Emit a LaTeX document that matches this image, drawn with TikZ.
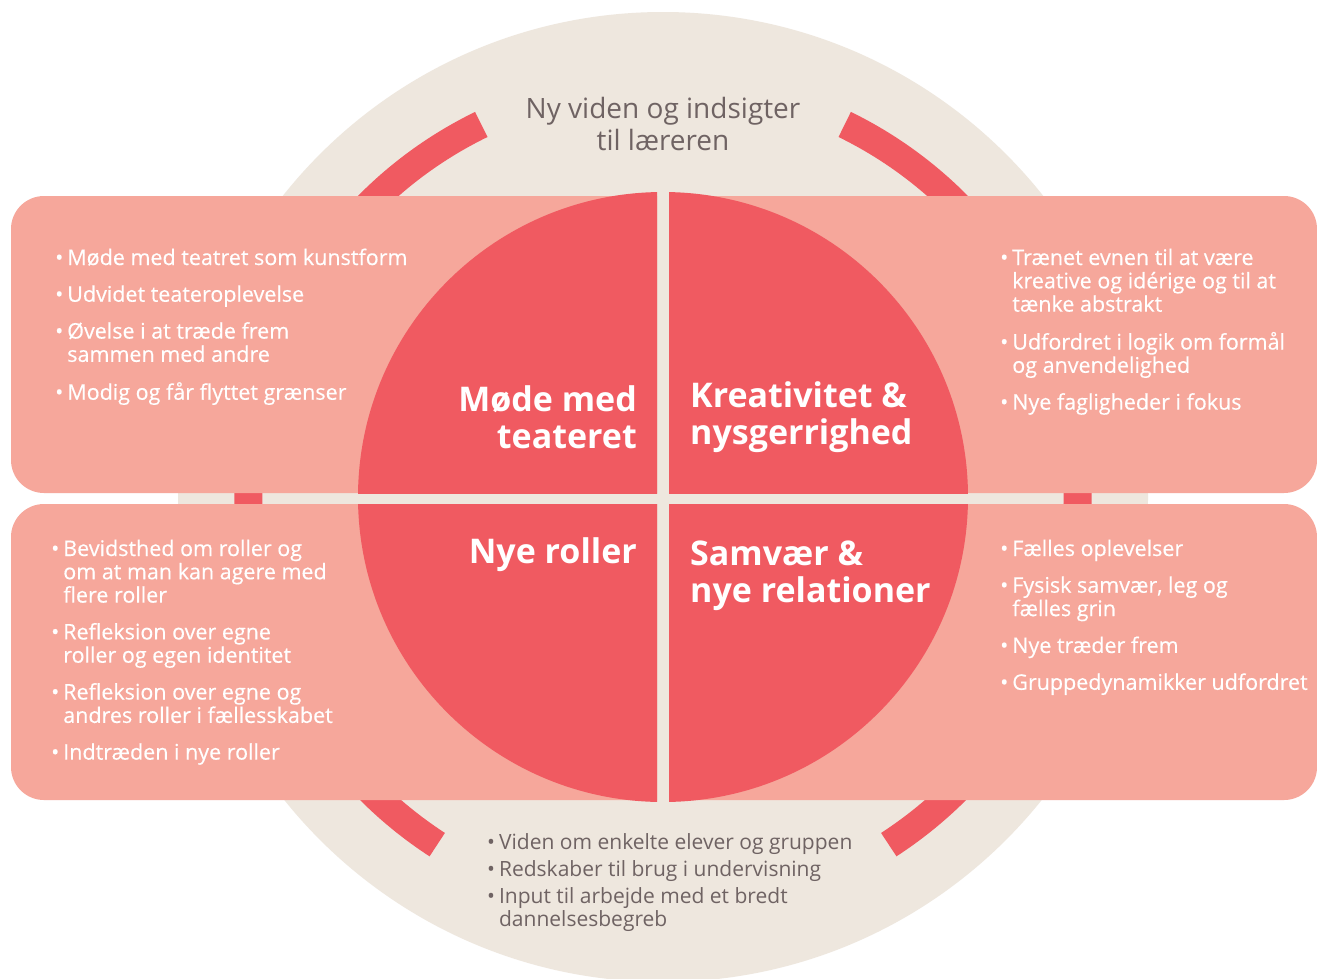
\documentclass[tikz,border=0pt]{standalone}
\usepackage{fontspec}
\setmainfont{Open Sans}
\newfontfamily\listfont{Open Sans}[FakeBold=0.4]
\definecolor{beige}{HTML}{EEE7DE}
\definecolor{salmon}{HTML}{F6A79B}
\definecolor{redc}{HTML}{F05A61}
\definecolor{greytxt}{HTML}{6F6363}
\newcommand{\bodyfont}{\listfont\fontsize{21.5}{23}\selectfont}
\newcommand{\titlefont}{\fontsize{34}{37}\selectfont\bfseries}
\begin{document}
\begin{tikzpicture}[x=1pt,y=-1pt,
  ring/.style={draw=redc,line width=28pt},
  listtxt/.style={anchor=base west,inner sep=0pt,text=white,font=\bodyfont},
  titletxt/.style={inner sep=0pt,text=white,font=\titlefont},
  greylist/.style={inner sep=0pt,text=greytxt}]
\useasboundingbox (0,0) rectangle (1317,978);
\fill[white] (0,0) rectangle (1317,978);
\coordinate (c) at (663,497);
\fill[beige] (c) circle (485pt);
% red ring segments
\draw[ring] (c) ++(116:414.5pt) arc[start angle=116,end angle=237,radius=414.5pt];
\draw[ring] (c) ++(-57:414.5pt) arc[start angle=-57,end angle=64,radius=414.5pt];
% quadrants
\begin{scope}
  \clip (0,0) rectangle (657,493);
  \fill[salmon,rounded corners=33pt] (11,196) rectangle (720,493);
  \fill[redc] (c) circle (305pt);
\end{scope}
\begin{scope}
  \clip (669,0) rectangle (1317,493);
  \fill[salmon,rounded corners=33pt] (600,196) rectangle (1317,493);
  \fill[redc] (c) circle (305pt);
\end{scope}
\begin{scope}
  \clip (0,504) rectangle (657,978);
  \fill[salmon,rounded corners=33pt] (11,504) rectangle (720,800);
  \fill[redc] (c) circle (305pt);
\end{scope}
\begin{scope}
  \clip (669,504) rectangle (1317,978);
  \fill[salmon,rounded corners=33pt] (600,504) rectangle (1317,800);
  \fill[redc] (c) circle (305pt);
\end{scope}
% titles (base anchor = last line)
\node[titletxt,anchor=base east,align=right] (t1) at (637,448) {Møde med\\teateret};
\node[titletxt,anchor=base west,align=left] (t2) at (690,444) {Kreativitet \&\\nysgerrighed};
\node[titletxt,anchor=base east,align=right] (t3) at (637,563) {Nye roller};
\node[titletxt,anchor=base west,align=left] (t4) at (690,602) {Samvær \&\\nye relationer};
% lists
\node[listtxt] (l1) at (55,265) {\begin{tabular}[t]{@{}l@{\hspace{4pt}}l@{}}
•&Møde med teatret som kunstform\\[13.5pt]
•&Udvidet teateroplevelse\\[13.5pt]
•&Øvelse i at træde frem\\
&sammen med andre\\[13.5pt]
•&Modig og får flyttet grænser
\end{tabular}};
\node[listtxt] (l2) at (1000,265) {\begin{tabular}[t]{@{}l@{\hspace{4pt}}l@{}}
•&Trænet evnen til at være\\
&kreative og idérige og til at\\
&tænke abstrakt\\[13.5pt]
•&Udfordret i logik om formål\\
&og anvendelighed\\[13.5pt]
•&Nye fagligheder i fokus
\end{tabular}};
\node[listtxt] (l3) at (51,556) {\begin{tabular}[t]{@{}l@{\hspace{4pt}}l@{}}
•&Bevidsthed om roller og\\
&om at man kan agere med\\
&flere roller\\[13.5pt]
•&Refleksion over egne\\
&roller og egen identitet\\[13.5pt]
•&Refleksion over egne og\\
&andres roller i fællesskabet\\[13.5pt]
•&Indtræden i nye roller
\end{tabular}};
\node[listtxt] (l4) at (1000,556) {\begin{tabular}[t]{@{}l@{\hspace{4pt}}l@{}}
•&Fælles oplevelser\\[13.5pt]
•&Fysisk samvær, leg og\\
&fælles grin\\[13.5pt]
•&Nye træder frem\\[13.5pt]
•&Gruppedynamikker udfordret
\end{tabular}};
% grey texts
\node[greylist,anchor=base,align=center,font=\fontsize{28}{32}\selectfont] (top) at (663,150) {Ny viden og indsigter\\til læreren};
\node[greylist,anchor=base west,font=\fontsize{21}{23}\selectfont] (bot) at (487,849) {\begin{tabular}[t]{@{}l@{\hspace{4pt}}l@{}}
•&Viden om enkelte elever og gruppen\\[4pt]
•&Redskaber til brug i undervisning\\[4pt]
•&Input til arbejde med et bredt\\
&dannelsesbegreb
\end{tabular}};
\end{tikzpicture}
\end{document}
